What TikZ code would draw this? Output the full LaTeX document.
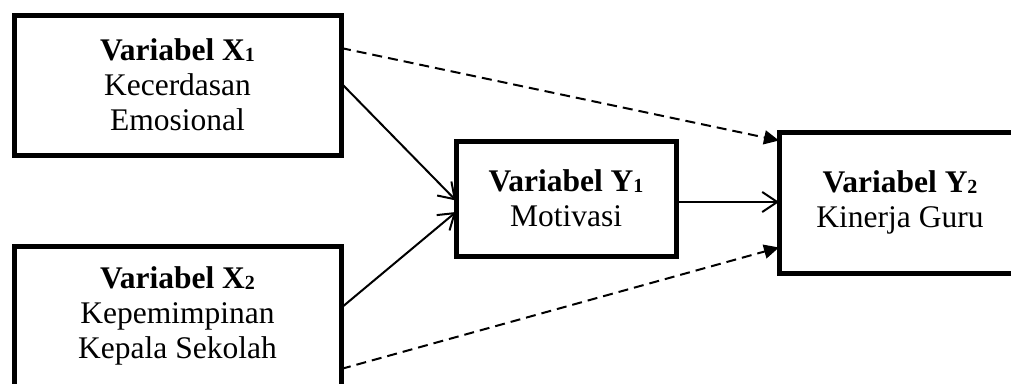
\documentclass[tikz,border=0pt]{standalone}
\usepackage{fontspec}
\setmainfont{Liberation Serif}
\usetikzlibrary{arrows.meta,calc}
\newcommand{\vsub}[1]{\raisebox{-1pt}{\fontsize{20}{20}\selectfont #1}}
\tikzset{
  varbox/.style={draw, line width=5pt, rectangle, inner sep=0pt, outer sep=0pt, align=center,
    font=\fontsize{31.5}{35}\selectfont},
  solidarrow/.style={line width=2pt, -{Straight Barb[length=15pt,width=20pt,line width=2pt]}},
  dasharrow/.style={line width=2pt, dash pattern=on 10pt off 6pt, -{Triangle[length=15pt,width=14pt]}}
}
\begin{document}
\begin{tikzpicture}[x=1pt,y=-1pt]
\useasboundingbox (0,0) rectangle (1011,383);
\node[varbox, minimum width=327pt, minimum height=140pt] (X1) at (177.5,85)
  {\textbf{Variabel X\vsub{1}}\\Kecerdasan\\Emosional};
\node[varbox, minimum width=327pt, minimum height=140pt] (X2) at (177.5,316)
  {\textbf{Variabel X\vsub{2}}\\Kepemimpinan\\Kepala Sekolah};
\node[varbox, minimum width=220pt, minimum height=115pt] (Y1) at (566,198.5)
  {\textbf{Variabel Y\vsub{1}}\\Motivasi};
\node[varbox, minimum width=242pt, minimum height=141pt] (Y2) at (900,202.5)
  {\textbf{Variabel Y\vsub{2}}\\Kinerja Guru};
\coordinate (m) at ([yshift=-3.5pt]Y1.east);
\draw[solidarrow] ([yshift=2pt]X1.east) -- ([yshift=-2pt]Y1.west);
\draw[solidarrow] ([yshift=8pt]X2.east) -- ([yshift=-13.5pt]Y1.west);
\draw[solidarrow] (m) -- (m -| Y2.west);
\draw[dasharrow] ([yshift=37pt]X1.east) -- ([yshift=62pt]Y2.west);
\draw[dasharrow] ([yshift=-53pt]X2.east) -- ([yshift=-45pt]Y2.west);
\end{tikzpicture}
\end{document}
